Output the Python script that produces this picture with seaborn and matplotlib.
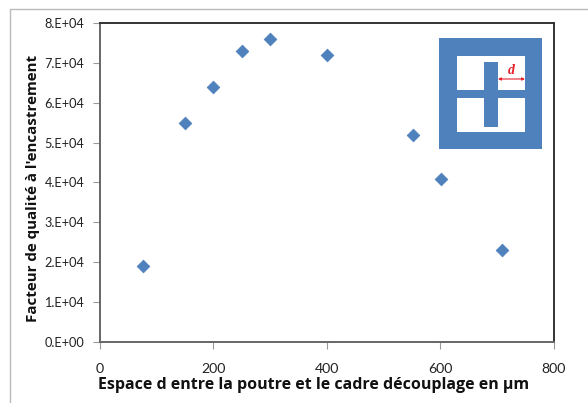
import matplotlib
matplotlib.use("Agg")
import matplotlib.pyplot as plt
from matplotlib.patches import Rectangle
import seaborn as sns
import pandas as pd

spacing = [77, 150, 200, 251, 300, 400, 552, 601, 708]
quality = [1.9e4, 5.5e4, 6.4e4, 7.3e4, 7.6e4, 7.2e4, 5.2e4, 4.1e4, 2.3e4]
x_ticks = [0, 200, 400, 600, 800]
y_ticks = [0, 1e4, 2e4, 3e4, 4e4, 5e4, 6e4, 7e4, 8e4]
y_labels = ["0.E+00", "1.E+04", "2.E+04", "3.E+04", "4.E+04", "5.E+04", "6.E+04", "7.E+04", "8.E+04"]
x_title = "Espace d entre la poutre et le cadre découplage en µm"
y_title = "Facteur de qualité à l'encastrement"

W, H = 588, 403
sns.set_theme(style="white")
plt.rcParams["font.family"] = ["Lato", "DejaVu Sans"]
fig = plt.figure(figsize=(W / 100, H / 100), dpi=100, facecolor="white")
ax = fig.add_axes([99.5 / W, 1 - 342 / H, (554 - 99.5) / W, (342 - 23) / H])

df = pd.DataFrame({"d": spacing, "Q": quality})
sns.scatterplot(data=df, x="d", y="Q", marker="D", s=42, color="#4F81BD",
                edgecolor="#4A7DBA", linewidth=0.5, ax=ax, zorder=3, clip_on=False)
ax.set_xlim(0, 800)
ax.set_ylim(0, 8e4)
ax.set_xticks(x_ticks)
ax.set_yticks(y_ticks)
ax.set_yticklabels(y_labels)
ax.tick_params(axis="both", length=5, width=0.8, color="#999999",
               labelcolor="#222222", left=True, bottom=True)
ax.tick_params(axis="y", labelsize=9.2, pad=6)
ax.tick_params(axis="x", labelsize=10.2, pad=10)
for s in ax.spines.values():
    s.set_color("#333333")
    s.set_linewidth(1.4)
ax.spines["left"].set_color("#666666")
ax.spines["bottom"].set_color("#666666")
ax.set_xlabel("")
ax.set_ylabel("")
fig.text(314 / W, 1 - 385 / H, x_title, ha="center", va="center", family="Open Sans",
         fontsize=11.5, fontweight="bold", color="#111111")
fig.text(33 / W, 1 - 188 / H, y_title, ha="center", va="center", rotation=90, family="Open Sans",
         fontsize=10.9, fontweight="bold", color="#111111")

# outer chart frame
fig.add_artist(plt.Line2D([10 / W, 10 / W], [0, 1 - 9 / H], color="#BBBBBB", lw=1))
fig.add_artist(plt.Line2D([10 / W, 1], [1 - 9 / H, 1 - 9 / H], color="#BBBBBB", lw=1))

# inset schematic, figure pixel coordinates
def rect(x0, y0, x1, y1, c):
    fig.add_artist(Rectangle((x0 / W, 1 - y1 / H), (x1 - x0) / W, (y1 - y0) / H,
                             transform=fig.transFigure, facecolor=c, edgecolor="none", zorder=5))
blue = "#4F81BD"
rect(439, 38, 542, 149, blue)
rect(457, 56, 525, 90, "white")
rect(457, 98, 525, 132, "white")
rect(484, 62, 498, 127, blue)
fig.text(511 / W, 1 - 70 / H, "d", color="#E8202A", fontsize=10, fontweight="bold",
         style="italic", family="Liberation Serif", ha="center", va="center", zorder=6)
fig.add_artist(matplotlib.patches.FancyArrowPatch((498 / W, 1 - 79 / H), (525 / W, 1 - 79 / H),
               transform=fig.transFigure, arrowstyle="<|-|>", mutation_scale=4,
               color="#E8202A", lw=0.8, shrinkA=0, shrinkB=0, zorder=6))
fig.savefig("out.png", dpi=100)
